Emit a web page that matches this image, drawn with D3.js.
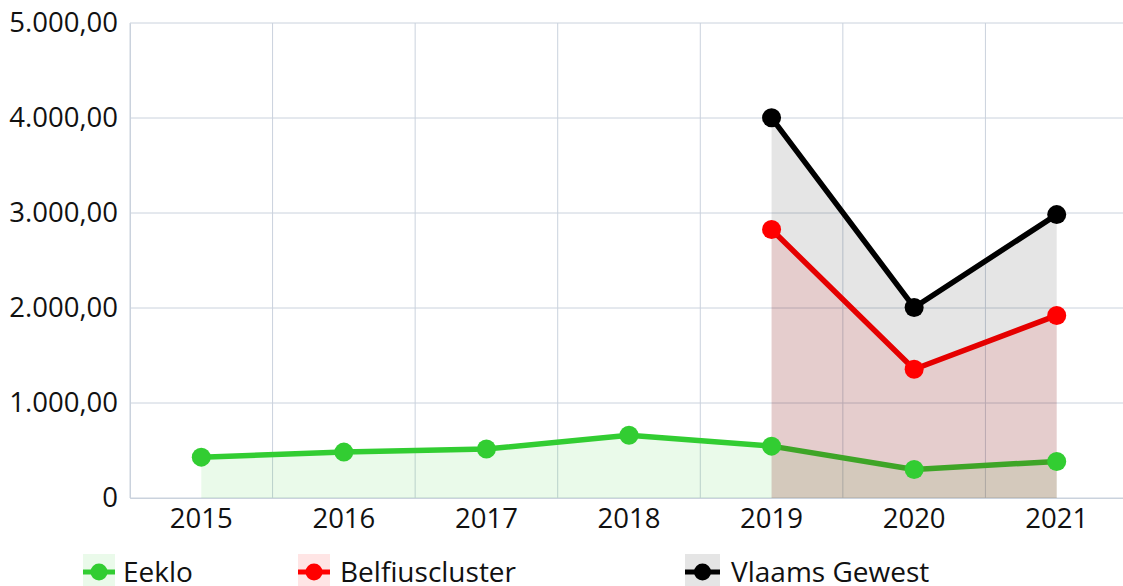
<!DOCTYPE html>
<html>
<head>
<meta charset="utf-8">
<script src="https://cdn.jsdelivr.net/npm/d3@7"></script>
<style>
  body { margin: 0; background: #fff; }
  svg { display: block; font-family: "Open Sans", sans-serif; }
</style>
</head>
<body>
<div id="chart"></div>
<script>
// chart data
const years = [2015, 2016, 2017, 2018, 2019, 2020, 2021];
const eeklo = [430, 483, 515, 660, 546, 300, 385];
const belfius = [null, null, null, null, 2826, 1355, 1922];
const vlaams = [null, null, null, null, 4002, 2006, 2983];
const yTicks = [0, 1000, 2000, 3000, 4000, 5000];

const series = [
    {name: "Eeklo", values: eeklo, color: "#32cd32", fill: "rgba(50,205,50,0.1)"},
    {name: "Belfiuscluster", values: belfius, color: "#ff0000", fill: "rgba(255,0,0,0.1)"},
    {name: "Vlaams Gewest", values: vlaams, color: "#000000", fill: "rgba(0,0,0,0.1)"}
];

const W = 1123, H = 586;
const margin = {top: 23, left: 130};
const plotW = 998, plotH = 475;

const svg = d3.select("#chart").append("svg")
    .attr("width", W)
    .attr("height", H);

const g = svg.append("g")
    .attr("transform", `translate(${margin.left},${margin.top})`);

const x = d3.scaleBand().domain(years).range([0, plotW]);
const y = d3.scaleLinear().domain([0, 5000]).range([plotH, 0]);

const nl = d3.formatLocale({decimal: ",", thousands: ".", grouping: [3], currency: ["€", ""]});
const fmt = d => d === 0 ? "0" : nl.format(",.2f")(d);

const gridColor = "#cad2dd";

// horizontal grid
g.append("g").selectAll("line")
    .data(yTicks)
    .join("line")
    .attr("x1", 0).attr("x2", plotW)
    .attr("y1", d => y(d)).attr("y2", d => y(d))
    .attr("stroke", gridColor).attr("stroke-width", 1);

// vertical grid at band edges
g.append("g").selectAll("line")
    .data(years)
    .join("line")
    .attr("x1", d => x(d)).attr("x2", d => x(d))
    .attr("y1", 0).attr("y2", plotH)
    .attr("stroke", gridColor).attr("stroke-width", 1);

// y axis labels
const yAxis = g.append("g")
    .call(d3.axisLeft(y).tickValues(yTicks).tickFormat(fmt).tickSize(0).tickPadding(12));
yAxis.select(".domain").attr("stroke", gridColor);
yAxis.selectAll("text")
    .attr("font-size", 27.5)
    .attr("font-family", "Open Sans, sans-serif")
    .attr("fill", "#111");

// x axis labels
const xAxis = g.append("g")
    .attr("transform", `translate(0,${plotH})`)
    .call(d3.axisBottom(x).tickSize(0).tickPadding(10));
xAxis.select(".domain").attr("stroke", gridColor);
xAxis.selectAll("text")
    .attr("font-size", 27.5)
    .attr("font-family", "Open Sans, sans-serif")
    .attr("fill", "#111");

const cx = d => x(d) + x.bandwidth() / 2;

const area = d3.area()
    .defined(d => d.v != null)
    .x(d => cx(d.year))
    .y0(y(0))
    .y1(d => y(d.v));

const line = d3.line()
    .defined(d => d.v != null)
    .x(d => cx(d.year))
    .y(d => y(d.v));

const pts = s => years.map((yr, i) => ({year: yr, v: s.values[i]}));

// fills and lines, in dataset order
series.forEach(s => {
    g.append("path")
        .datum(pts(s))
        .attr("d", area)
        .attr("fill", s.fill);
    g.append("path")
        .datum(pts(s))
        .attr("d", line)
        .attr("fill", "none")
        .attr("stroke", s.color)
        .attr("stroke-width", 5.5)
        .attr("stroke-linejoin", "round");
});

// points on top
series.forEach(s => {
    g.append("g").selectAll("circle")
        .data(pts(s).filter(d => d.v != null))
        .join("circle")
        .attr("cx", d => cx(d.year))
        .attr("cy", d => y(d.v))
        .attr("r", 9.5)
        .attr("fill", s.color);
});

// legend
const legendX = [83, 298, 685];
const legendPad = [40, 42, 46];
const legend = svg.append("g").selectAll("g")
    .data(series)
    .join("g")
    .attr("transform", (d, i) => `translate(${legendX[i]},554)`);

legend.append("rect")
    .attr("width", (d, i) => i === 2 ? 35 : 32).attr("height", 40)
    .attr("fill", d => d.fill);
legend.append("line")
    .attr("x1", 0).attr("x2", (d, i) => i === 2 ? 35 : 32)
    .attr("y1", 18).attr("y2", 18)
    .attr("stroke", d => d.color)
    .attr("stroke-width", 5);
legend.append("circle")
    .attr("cx", (d, i) => i === 2 ? 17.5 : 16).attr("cy", 18).attr("r", 8.5)
    .attr("fill", d => d.color);
legend.append("text")
    .attr("x", (d, i) => legendPad[i]).attr("y", 28)
    .attr("font-size", 28)
    .attr("fill", "#111")
    .text(d => d.name);
</script>
</body>
</html>
